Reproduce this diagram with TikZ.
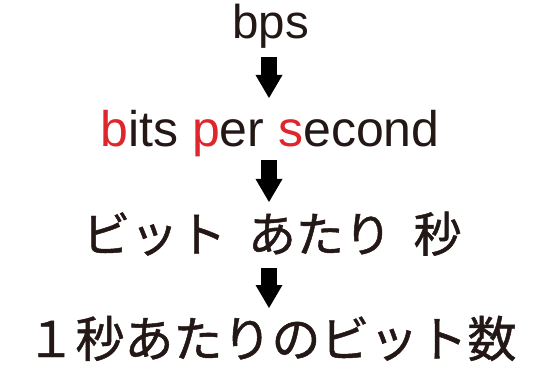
\documentclass[tikz,border=0pt]{standalone}
\usepackage{fontspec}
\setmainfont{Noto Sans CJK JP}[FakeBold=1]
\newfontfamily\latinfont{Liberation Sans}
\usetikzlibrary{arrows.meta}
\definecolor{txt}{RGB}{35,24,21}
\definecolor{hl}{RGB}{222,38,44}
\tikzset{
  lbl/.style={inner sep=0pt, outer sep=0pt, text=txt, anchor=base},
  blockarrow/.style={draw=black, line width=16pt,
    -{Triangle[width=27pt,length=23pt,line width=0pt]}},
}
\begin{document}
\begin{tikzpicture}[x=1pt,y=1pt]
\useasboundingbox[fill=white] (0,0) rectangle (535,367);
\node[lbl, font=\latinfont\fontsize{47.5}{48}\selectfont] (bps) at (270.5,328) {bps};
\node[lbl, font=\latinfont\fontsize{50}{51}\selectfont] (bits) at (270,220)
  {\textcolor{hl}{b}its \textcolor{hl}{p}er \textcolor{hl}{s}econd};
\node[lbl, font=\fontsize{48}{49}\selectfont] (jp1) at (272,115)
  {ビット\hspace{0.45em}あたり\hspace{0.45em}秒};
\node[lbl, font=\fontsize{49}{50}\selectfont] (jp2) at (271.5,10)
  {１秒あたりのビット数};
\draw[blockarrow] ([shift={(-1.5,-18)}]bps.base) -- ([shift={(-1,49)}]bits.base);
\draw[blockarrow] ([shift={(-1,-13)}]bits.base) -- ([shift={(-3,50)}]jp1.base);
\draw[blockarrow] ([shift={(-3,-16)}]jp1.base) -- ([shift={(-2.5,49)}]jp2.base);
\end{tikzpicture}
\end{document}
